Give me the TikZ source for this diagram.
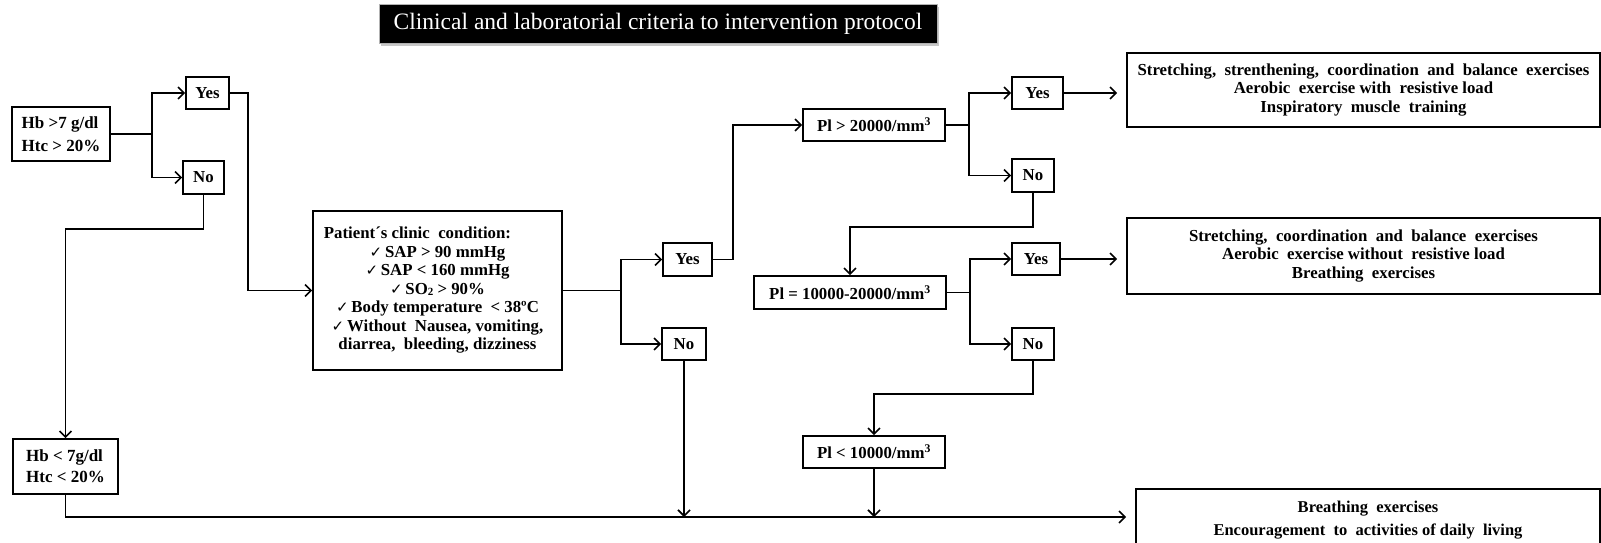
\documentclass[tikz,border=0pt]{standalone}
\usepackage{fontspec}
\setmainfont{Liberation Serif}
\newfontfamily\symfont{DejaVu Sans}
\usetikzlibrary{arrows.meta,shadows}
\newcommand\bodysize{\fontsize{16.8}{18.5}\selectfont}
\newcommand\tick{{\symfont\fontsize{15}{15}\selectfont\char"2713}\,}
\newcommand\cube{\textsuperscript{3}}
\begin{document}
\begin{tikzpicture}[x=1pt,y=-1pt,
  box/.style={draw, line width=1.7pt, inner sep=0pt, align=center, font=\bfseries\bodysize},
  conn/.style={line width=1.7pt},
  arr/.style={conn, -{Straight Barb[length=6pt,width=12pt,line width=1.6pt]}},
  banner/.style={fill=black, draw=gray!60, line width=0.6pt, text=white, inner sep=0pt,
    font=\fontsize{23.5}{26}\selectfont,
    drop shadow={shadow xshift=2pt, shadow yshift=-2pt, fill=gray!55, opacity=0.8}}]
\useasboundingbox (0,0) rectangle (1601,542);
\clip (0,0) rectangle (1601,542);
\fill[white] (0,0) rectangle (1601,542);

% heading
\node[banner, minimum width=558pt, minimum height=39pt] (title) at (658,24)
  {Clinical and laboratorial criteria to intervention protocol};

% haemoglobin / haematocrit checks
\node[box, minimum width=98pt, minimum height=54pt, align=left,
      font=\bfseries\fontsize{17}{22.5}\selectfont] (hb1) at (61,134)
  {Hb >7 g/dl\\Htc > 20\%};
\node[box, minimum width=43pt, minimum height=32pt] (yes1) at (207.5,93) {Yes};
\node[box, minimum width=41pt, minimum height=33pt] (no1) at (203.5,177.5) {No};
\node[box, minimum width=105pt, minimum height=55pt, align=left,
      font=\bfseries\fontsize{17}{21}\selectfont] (hb2) at (65.5,466.5)
  {Hb < 7g/dl\\Htc < 20\%};

% clinical condition
\node[box, minimum width=249pt, minimum height=159pt] (patient) at (437.5,290.5)
  {Patient´s clinic\ \ condition:\hspace*{40pt}\\
   \tick SAP > 90 mmHg\\
   \tick SAP < 160 mmHg\\
   \tick SO\raisebox{-1pt}{\fontsize{11}{11}\selectfont 2} > 90\%\\
   \tick Body temperature\ \ < 38ºC\\
   \tick Without\ \ Nausea, vomiting,\\
   diarrea,\ \ bleeding, dizziness};
\node[box, minimum width=49pt, minimum height=33pt] (yes2) at (687.5,259.5) {Yes};
\node[box, minimum width=44pt, minimum height=32pt] (no2) at (684,344) {No};

% platelet checks
\node[box, minimum width=142pt, minimum height=32pt] (pl1) at (874,125) {Pl > 20000/mm\cube};
\node[box, minimum width=51pt, minimum height=32pt] (yes3) at (1037.5,93) {Yes};
\node[box, minimum width=42pt, minimum height=33pt] (no3) at (1033,175.5) {No};
\node[box, minimum width=192pt, minimum height=33pt] (pl2) at (850,292.5) {Pl = 10000-20000/mm\cube};
\node[box, minimum width=48pt, minimum height=32pt] (yes4) at (1036,259) {Yes};
\node[box, minimum width=42pt, minimum height=32pt] (no4) at (1033,344) {No};
\node[box, minimum width=142pt, minimum height=32pt] (pl3) at (874,452) {Pl < 10000/mm\cube};

% exercise prescriptions
\node[box, minimum width=473pt, minimum height=74pt] (res1) at (1363.5,90)
  {Stretching,\ \ strenthening,\ \ coordination\ \ and\ \ balance\ \ exercises\\
   Aerobic\ \ exercise with\ \ resistive load\\
   Inspiratory\ \ muscle\ \ training};
\node[box, minimum width=473pt, minimum height=76pt] (res2) at (1363.5,256)
  {Stretching,\ \ coordination\ \ and\ \ balance\ \ exercises\\
   Aerobic\ \ exercise without\ \ resistive load\\
   Breathing\ \ exercises};
\node[box, minimum width=464pt, minimum height=62pt,
      font=\bfseries\fontsize{16.5}{23}\selectfont] (res3) at (1368,520)
  {Breathing\ \ exercises\\
   Encouragement\ \ to\ \ activities of daily\ \ living};

% branch points and the common bottom line
\coordinate (b1) at (152,134);
\coordinate (b2) at (621,290.5);
\coordinate (b3) at (969,125);
\coordinate (b4) at (970,292.5);
\coordinate (bot) at (0,517);

% connectors
\draw[conn] (hb1.east) -- (b1);
\draw[arr] (b1) |- (yes1.west);
\draw[arr] (b1) |- (no1.west);
\draw[arr] (yes1.east) -- ++(18,0) |- (patient.west);
\draw[arr] (no1.south) -- ++(0,34) -| (hb2.north);
\draw[arr, shorten >=9pt] (hb2.south) |- (res3.west |- bot);

\draw[conn] (patient.east) -- (b2);
\draw[arr] (b2) |- (yes2.west);
\draw[arr] (b2) |- (no2.west);
\draw[arr] (no2.south) -- (no2.south |- bot);
\draw[arr] (yes2.east) -- ++(20,0) |- (pl1.west);

\draw[conn] (pl1.east) -- (b3);
\draw[arr] (b3) |- (yes3.west);
\draw[arr] (b3) |- (no3.west);
\draw[arr, shorten >=9pt] (yes3.east) -- (yes3.east -| res1.west);
\draw[arr] (no3.south) -- ++(0,34) -| (pl2.north);

\draw[conn] (pl2.east) -- (b4);
\draw[arr] (b4) |- (yes4.west);
\draw[arr] (b4) |- (no4.west);
\draw[arr, shorten >=9pt] (yes4.east) -- (yes4.east -| res2.west);
\draw[arr] (no4.south) -- ++(0,33) -| (pl3.north);
\draw[arr] (pl3.south) -- (pl3.south |- bot);
\end{tikzpicture}
\end{document}
